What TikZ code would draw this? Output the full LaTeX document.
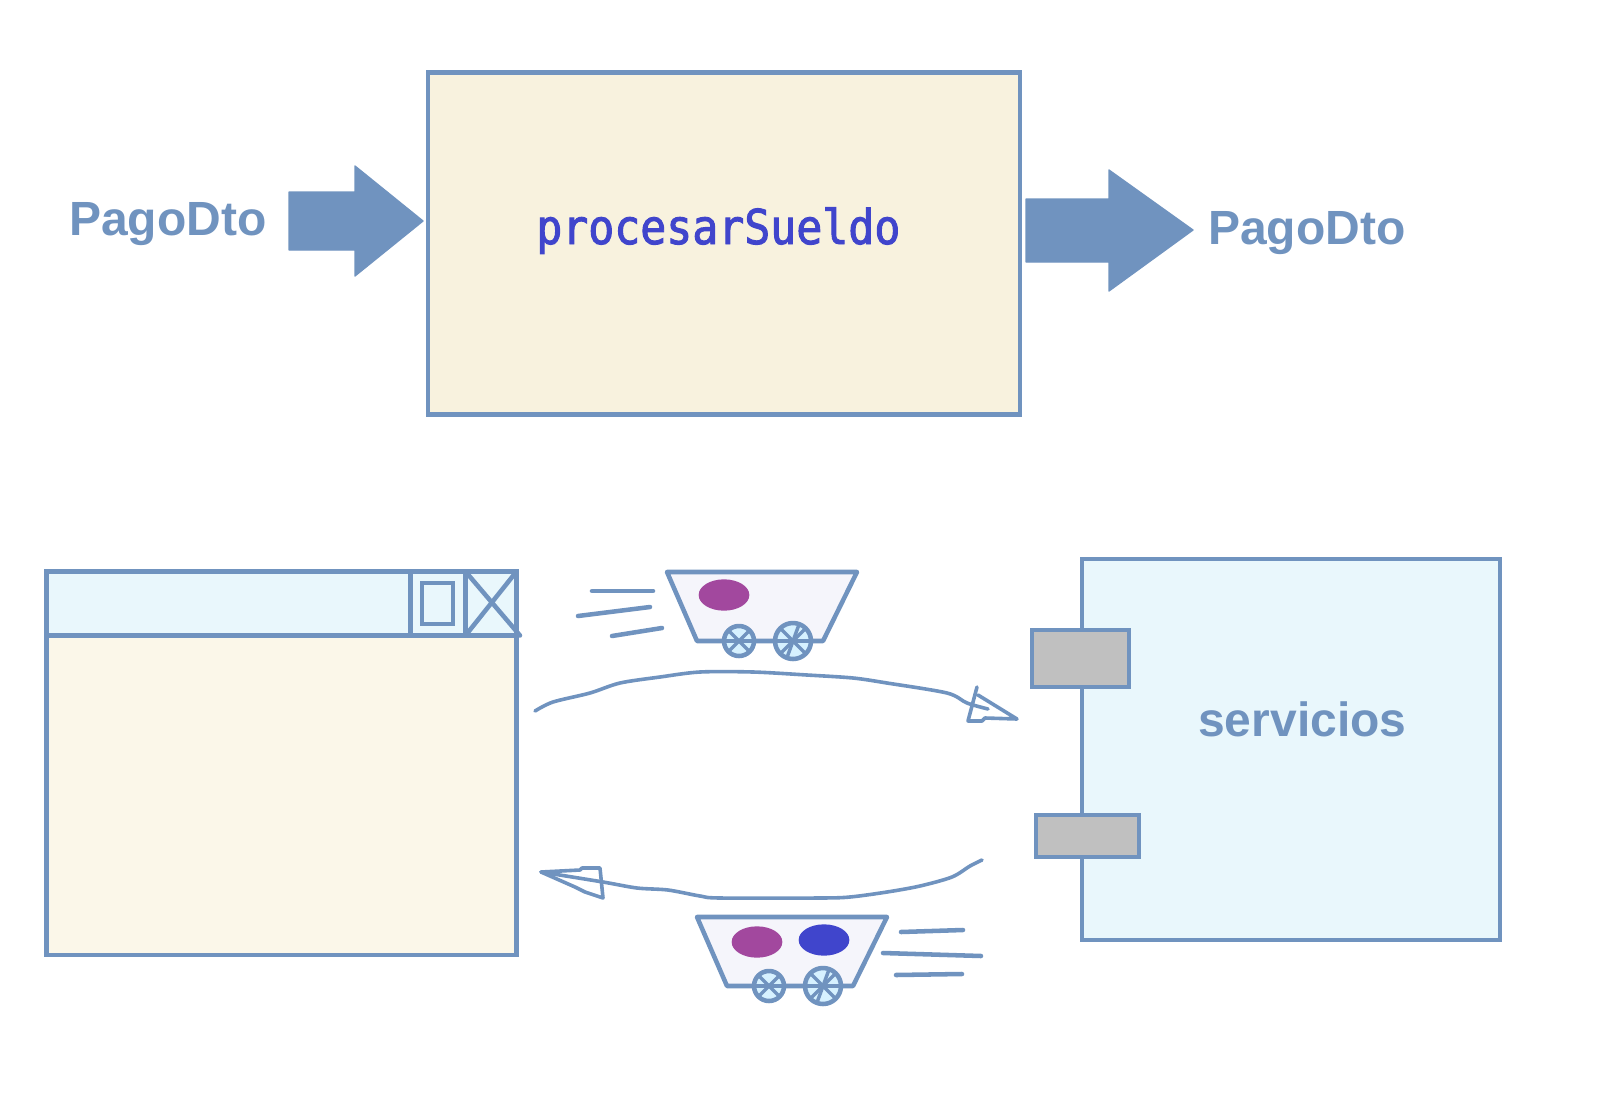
\documentclass[tikz,border=0pt]{standalone}
\usepackage{fontspec}
\setmainfont{Liberation Sans}
\setmonofont[FakeBold=2,FakeStretch=0.9]{DejaVu Sans Mono}
\usepackage{xcolor}
\usetikzlibrary{shapes.geometric, positioning}
\definecolor{linea}{HTML}{7093BF}
\definecolor{crema}{HTML}{F8F2DE}
\definecolor{cremita}{HTML}{FBF7E9}
\definecolor{celeste}{HTML}{E9F7FC}
\definecolor{gris}{HTML}{C0C0C0}
\definecolor{morado}{HTML}{A2489E}
\definecolor{azul}{HTML}{4045CC}
\definecolor{carro}{HTML}{F5F5FB}
\definecolor{llanta}{HTML}{D6F1FF}
\tikzstyle{caja} = [rectangle, draw=linea, line width=3.5pt, inner sep=0pt]
\tikzstyle{puerto} = [rectangle, draw=linea, line width=3.5pt, fill=gris, inner sep=0pt]
\tikzstyle{etiqueta} = [inner sep=0pt, anchor=base west, text=linea, font=\fontsize{36}{36}\selectfont\bfseries]
\tikzstyle{flecha} = [fill=linea, draw=linea, line width=1pt, line join=round]
\tikzstyle{borde} = [draw=linea, line width=3.4pt, line join=round, line cap=round]
\tikzstyle{rayo} = [draw=linea, line width=2.6pt]
\tikzstyle{trazo} = [draw=linea, line width=2.7pt, line join=round, line cap=round]
\tikzstyle{bola} = [ellipse, inner sep=0pt, minimum width=38pt, minimum height=23.5pt]
\begin{document}
\begin{tikzpicture}[x=0.75pt, y=-0.75pt]
\useasboundingbox (0,0) rectangle (1604,1111);
\node (proceso) [caja, fill=crema, minimum width=444pt, minimum height=256.5pt] at (724,243.5) {};
\node (metodo) [anchor=base west, inner sep=0pt, text=azul, font=\fontsize{36}{40}\selectfont\ttfamily] at (536,244) {procesarSueldo};
\node (entrada) [etiqueta] at (69,235) {PagoDto};
\node (salida) [etiqueta] at (1208,244) {PagoDto};
\fill [flecha] (289,192) -- (355,192) -- (355,166) -- (423,221) -- (355,276) -- (355,250) -- (289,250) -- cycle;
\fill [flecha] (1026,199) -- (1109,199) -- (1109,170) -- (1193,230) -- (1109,291) -- (1109,262) -- (1026,262) -- cycle;

\node (ventana) [caja, fill=cremita, minimum width=352.9pt, minimum height=287.6pt] at (281.5,763.25) {};
\node (titulo) [caja, fill=celeste, minimum width=352.9pt, minimum height=48pt] at (281.5,603.5) {};
\node (maximo) [caja, minimum width=23.25pt, minimum height=30.75pt] at (437.5,603.5) {};
\draw [borde] (410.5,571.5) -- (410.5,635.5);
\draw [borde] (465.5,571.5) -- (465.5,635.5);
\draw [borde] (465.5,635.5) -- (516.5,571.5);
\draw [borde] (465.5,571.5) -- (520,635.5);

\node (servicios) [caja, fill=celeste, minimum width=313.5pt, minimum height=285.75pt] at (1291,749.5) {};
\node (rotulo) [etiqueta] at (1198,736) {servicios};
\node (puertoA) [puerto, minimum width=72.75pt, minimum height=42.75pt] at (1080.5,658.5) {};
\node (puertoB) [puerto, minimum width=77.25pt, minimum height=31.5pt] at (1087.5,836) {};

\foreach \dx/\dy in {0/0, 30/345} {
  \draw [borde, fill=carro] (667+\dx,572+\dy) -- (857+\dx,572+\dy) -- (823+\dx,641+\dy) -- (697+\dx,641+\dy) -- cycle;
  \draw [borde, fill=llanta] (739+\dx,641+\dy) circle (15);
  \draw [borde, fill=llanta] (793+\dx,641+\dy) circle (18);
  \foreach \a in {0,45,135} {
    \draw [rayo] (739+\dx,641+\dy) +(\a:15) -- +(\a+180:15);
    \draw [rayo] (793+\dx,641+\dy) +(\a:18) -- +(\a+180:18);
  }
  \draw [rayo] (793+\dx,641+\dy) +(110:18) -- +(290:18);
}
\node (bolaA) [bola, fill=morado] at (724,595) {};
\node (bolaB) [bola, fill=morado] at (757,942) {};
\node (bolaC) [bola, fill=azul] at (824,940) {};

\draw [borde] (592,591) -- (653,591);
\draw [borde] (578,616) -- (650,607);
\draw [borde] (612,636) -- (662,628);
\draw [borde] (901,932) -- (963,930);
\draw [borde] (883,953) -- (981,956);
\draw [borde] (896,975) -- (962,974);

\coordinate (idaA) at (535,711);
\coordinate (idaB) at (988,709);
\coordinate (vueltaA) at (982,860);
\coordinate (vueltaB) at (541,872);
\draw [trazo] plot [smooth, tension=0.5] coordinates {(idaA) (553,702) (590,693) (620,683) (660,677) (700,672) (753,672) (807,675) (853,678) (887,683) (947,693) (967,703) (idaB)};
\draw [trazo] (977,687) -- (968,721) -- (982,721) -- (985,718) -- (1017,719) -- (978,695);
\draw [trazo] plot [smooth, tension=0.5] coordinates {(vueltaA) (970,866) (952,877) (920,886) (887,892) (850,897) (820,898) (720,898) (700,896) (668,890) (637,888) (603,882) (vueltaB)};
\draw [trazo] (vueltaB) -- (580,870) -- (582,868) -- (600,868) -- (603,898) -- (585,892) -- (575,887) -- cycle;
\end{tikzpicture}
\end{document}
